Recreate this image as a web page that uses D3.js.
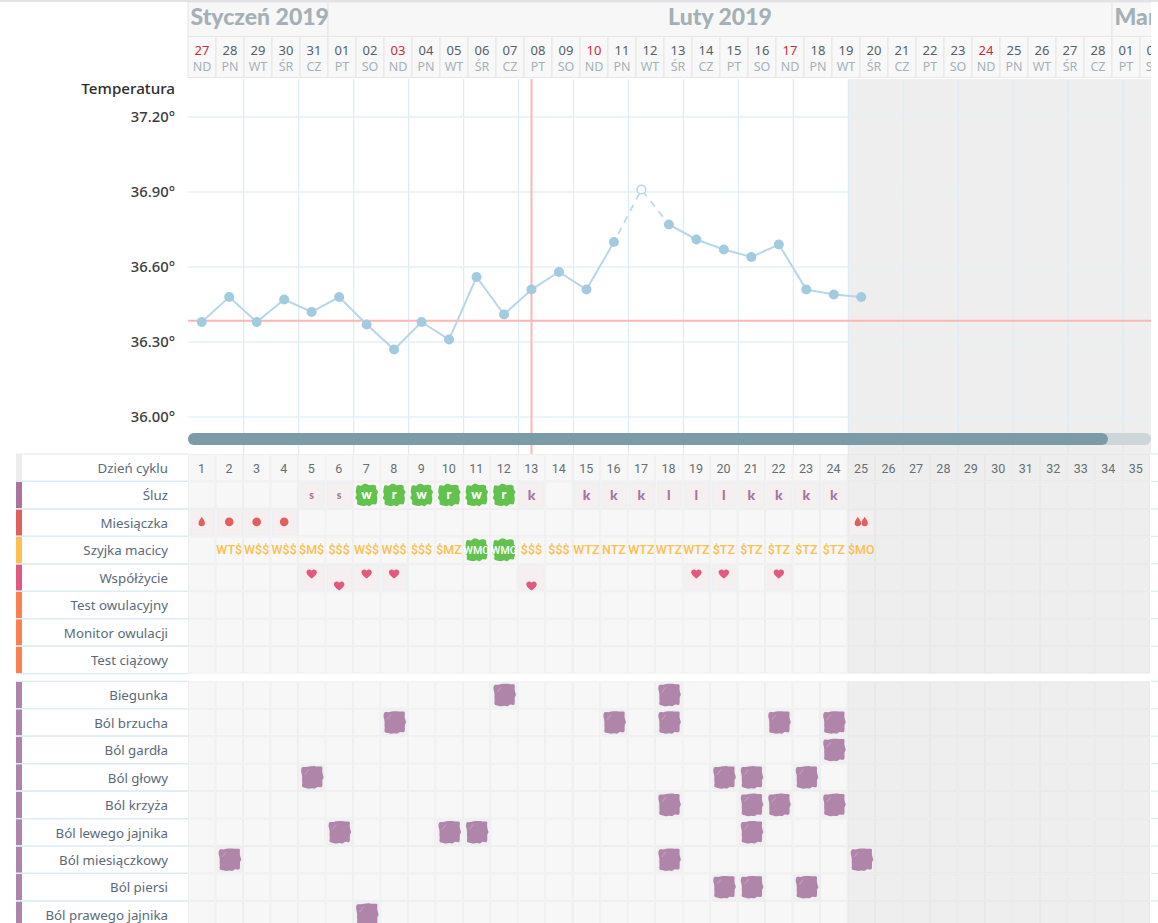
<!DOCTYPE html>
<html lang="pl"><head><meta charset="utf-8">
<script src="https://cdnjs.cloudflare.com/ajax/libs/d3/7.8.5/d3.min.js"></script>
<style>html,body{margin:0;padding:0;background:#fff;overflow:hidden}svg{display:block}</style>
</head><body><svg id="c" width="1158" height="923"></svg>
<script>
const headerMonths=[["Styczeń 2019",0,5],["Luty 2019",5,33],["Marzec 2019",33,35]];
const headerDates=["27","28","29","30","31","01","02","03","04","05","06","07","08","09","10","11","12","13","14","15","16","17","18","19","20","21","22","23","24","25","26","27","28","01","02"];
const headerDays=["ND","PN","WT","ŚR","CZ","PT","SO","ND","PN","WT","ŚR","CZ","PT","SO","ND","PN","WT","ŚR","CZ","PT","SO","ND","PN","WT","ŚR","CZ","PT","SO","ND","PN","WT","ŚR","CZ","PT","SO"];
const yTicks=[37.2,36.9,36.6,36.3,36.0];
const temps=[36.38,36.48,36.38,36.47,36.42,36.48,36.37,36.27,36.38,36.31,36.56,36.41,36.51,36.58,36.51,36.70,36.91,36.77,36.71,36.67,36.64,36.69,36.51,36.49,36.48];
const excludedDay=17;
const coverline=36.385;
const todayDay=13;
const cycleDays=d3.range(1,36);
const rowsA=[["Śluz","#a9759c"],["Miesiączka","#e25f5f"],["Szyjka macicy","#ffbe4d"],["Współżycie","#e2597f"],["Test owulacyjny","#fb7f50"],["Monitor owulacji","#fb7f50"],["Test ciążowy","#fb7f50"]];
const rowsB=["Biegunka","Ból brzucha","Ból gardła","Ból głowy","Ból krzyża","Ból lewego jajnika","Ból miesiączkowy","Ból piersi","Ból prawego jajnika"];
const mucus={5:"s",6:"s",7:"w",8:"r",9:"w",10:"r",11:"w",12:"r",13:"k",15:"k",16:"k",17:"k",18:"l",19:"l",20:"l",21:"k",22:"k",23:"k",24:"k"};
const mucusFertile=[7,8,9,10,11,12];
const bleeding={1:"drop",2:"dot",3:"dot",4:"dot",25:"drops"};
const cervix={2:"WT$",3:"W$$",4:"W$$",5:"$M$",6:"$$$",7:"W$$",8:"W$$",9:"$$$",10:"$MZ",11:"WMO",12:"WMO",13:"$$$",14:"$$$",15:"WTZ",16:"NTZ",17:"WTZ",18:"WTZ",19:"WTZ",20:"$TZ",21:"$TZ",22:"$TZ",23:"$TZ",24:"$TZ",25:"$MO"};
const cervixFertile=[11,12];
const sexTop=[5,7,8,19,20,22];
const sexBottom=[6,13];
const symptoms=[[12,18],[8,16,18,22,24],[24],[5,20,21,23],[18,21,22,24],[6,10,11,21],[2,18,25],[20,21,23],[7]];
const purpleRadii=[.96,1.0,1.08,1.26,1.04,.98,1.02,.95,1.06,1.22,1.0,1.03,.97,1.05,1.1,1.2,.98,.9,.86,.92,1.1,1.22,1.02,.97];
const greenRadii=[1.04,.95,1.12,1.24,1.06,1.12,.96,1.05,1.14,1.24,1.02,1.1,.96,1.08,1.16,1.25,1.03,1.1,.95,1.06,1.14,1.26,1.0,1.08];

const svg=d3.select("#c");
const font="'Source Sans Pro','Noto Sans',sans-serif";
const hx=d3.scaleLinear().domain([0,35]).range([188,1168]);
const cx=d3.scaleLinear().domain([0,35]).range([188,1149.8]);
const y=d3.scaleLinear().domain([36,37.2]).range([417,117]);
const rowH=27.45;
const rowY=i=>454+rowH*i;
const row2Y=i=>681.3+rowH*i;
const center=d=>cx(d-.5);
svg.append("defs").append("clipPath").attr("id","clipR").append("rect").attr("width",1151).attr("height",923);
const blobGen=radii=>d3.lineRadial().curve(d3.curveCatmullRomClosed).angle((d,i)=>i/radii.length*2*Math.PI).radius(d=>d);
function blob(g,radii,xc,yc,r,color){
  g.append("path").attr("d",blobGen(radii)(radii.map(v=>v*r))).attr("fill",color)
   .attr("transform",`translate(${xc},${yc})`);
}
const heart="M0,4.8C-2,3-5.2,1-5.2,-1.6C-5.2,-3.4-3.8,-4.4-2.5,-4.4C-1.4,-4.4-.5,-3.8,0,-3C.5,-3.8,1.4,-4.4,2.5,-4.4C3.8,-4.4,5.2,-3.4,5.2,-1.6C5.2,1,2,3,0,4.8Z";
const dropPath="M0,-5.2C1,-3.2,3.2,-1.2,3.2,1.2A3.2,3.2,0,0,1,-3.2,1.2C-3.2,-1.2,-1,-3.2,0,-5.2Z";

svg.append("rect").attr("width",1158).attr("height",2).attr("fill","#e1e1e6");
const root=svg.append("g").attr("clip-path","url(#clipR)");
const head=root.append("g");
head.selectAll("rect.m").data(headerMonths).join("rect").attr("class","m")
  .attr("x",d=>hx(d[1])).attr("y",2).attr("width",d=>hx(d[2])-hx(d[1])).attr("height",34.5)
  .attr("fill","#f7f7f7").attr("stroke","#e6e6e6");
head.selectAll("text.m").data(headerMonths).join("text").attr("class","m")
  .attr("x",(d,i)=>i==1?720:hx(d[1])+2.5).attr("y",24.5).attr("text-anchor",(d,i)=>i==1?"middle":"start")
  .attr("font-family","Lato,sans-serif").attr("font-weight",900).attr("font-size",23).attr("fill","#a3b0b7").text(d=>d[0]);
head.selectAll("rect.d").data(headerDates).join("rect").attr("class","d")
  .attr("x",(d,i)=>hx(i)).attr("y",36.5).attr("width",28).attr("height",41)
  .attr("fill","#f8f8f8").attr("stroke","#e6e6e6");
head.selectAll("text.d").data(headerDates).join("text").attr("class","d")
  .attr("x",(d,i)=>hx(i+.5)).attr("y",55).attr("text-anchor","middle").attr("font-family",font).attr("font-size",13)
  .attr("fill",(d,i)=>headerDays[i]=="ND"?"#cf2a3a":"#54606b").text(d=>d);
head.selectAll("text.w").data(headerDays).join("text").attr("class","w")
  .attr("x",(d,i)=>hx(i+.5)).attr("y",71).attr("text-anchor","middle").attr("font-family",font).attr("font-size",12.5)
  .attr("fill","#a5b2ba").text(d=>d);

const plot=root.append("g");
plot.append("rect").attr("x",cx(24)+1).attr("y",79).attr("width",1150-cx(24)).attr("height",375).attr("fill","#eeeeee");
const gridX=d3.range(2,35,2);
plot.selectAll("line.gx").data(gridX).join("line").attr("class","gx")
  .attr("x1",d=>cx(d)+.8).attr("x2",d=>cx(d)+.8).attr("y1",79).attr("y2",454).attr("stroke","#dcecf4").attr("stroke-width",1.2);
plot.selectAll("line.gy").data(yTicks).join("line").attr("class","gy")
  .attr("x1",188).attr("x2",1151).attr("y1",d=>y(d)).attr("y2",d=>y(d)).attr("stroke","#e4f0f6").attr("stroke-width",1.5);
plot.append("line").attr("x1",188).attr("x2",1151).attr("y1",y(coverline)).attr("y2",y(coverline)).attr("stroke","#ffb5b5").attr("stroke-width",2);
plot.append("line").attr("x1",center(todayDay)).attr("x2",center(todayDay)).attr("y1",79).attr("y2",454).attr("stroke","#ffb5b5").attr("stroke-width",2);
const pts=temps.map((t,i)=>({d:i+1,t}));
const line=d3.line().x(d=>center(d.d)).y(d=>y(d.t));
plot.append("path").attr("d",line(pts.slice(0,excludedDay-1))).attr("fill","none").attr("stroke","#b7d7e7").attr("stroke-width",2);
plot.append("path").attr("d",line(pts.slice(excludedDay))).attr("fill","none").attr("stroke","#b7d7e7").attr("stroke-width",2);
plot.append("path").attr("d",line(pts.slice(excludedDay-2,excludedDay+1))).attr("fill","none").attr("stroke","#b7d7e7").attr("stroke-width",1.6).attr("stroke-dasharray","7 6").attr("stroke-dashoffset",-9);
plot.selectAll("circle.p").data(pts).join("circle").attr("class","p")
  .attr("cx",d=>center(d.d)).attr("cy",d=>y(d.t)).attr("r",d=>d.d==excludedDay?4.3:5)
  .attr("fill",d=>d.d==excludedDay?"#fff":"#a3cbe0").attr("stroke",d=>d.d==excludedDay?"#b7d7e7":"none").attr("stroke-width",1.6);
const labelG=svg.append("g");
labelG.append("text").attr("x",175).attr("y",94).attr("text-anchor","end").attr("font-family",font).attr("font-size",15.2).attr("font-weight",500).attr("fill","#2c2c2c").text("Temperatura");
labelG.selectAll("text.t").data(yTicks).join("text").attr("class","t").attr("x",175).attr("y",d=>y(d)+5)
  .attr("text-anchor","end").attr("font-family",font).attr("font-size",14.8).attr("font-weight",500).attr("fill","#3c3c3c").text(d=>d.toFixed(2)+"°");
plot.append("rect").attr("x",188).attr("y",433).attr("width",963).attr("height",12).attr("rx",6).attr("fill","#cdd6d9");
plot.append("rect").attr("x",188).attr("y",433).attr("width",920).attr("height",12).attr("rx",6).attr("fill","#7b9ca6");

function rowBase(g,top,label,color){
  g.append("rect").attr("x",16).attr("y",top+.6).attr("width",6).attr("height",rowH-1.2).attr("fill",color);
  g.append("line").attr("x1",16).attr("x2",188).attr("y1",top).attr("y2",top).attr("stroke","#dcecf4").attr("stroke-width",1.2);
  g.append("line").attr("x1",16).attr("x2",188).attr("y1",top+rowH).attr("y2",top+rowH).attr("stroke","#dcecf4").attr("stroke-width",1.2);
  g.append("line").attr("x1",1151).attr("x2",1158).attr("y1",top).attr("y2",top).attr("stroke","#dcecf4").attr("stroke-width",1.2);
  g.append("text").attr("x",168).attr("y",top+19).attr("text-anchor","end").attr("font-family",font).attr("font-size",13.3).attr("fill","#5b6a7a").text(label);
  g.selectAll(null).data(cycleDays).join("rect")
    .attr("x",d=>cx(d-1)+.5).attr("y",top+.5).attr("width",cx(1)-cx(0)-1).attr("height",rowH-1)
    .attr("fill",d=>d>=25?"#eeeeee":"#f7f7f7").attr("stroke",d=>d>=25?"#e8e8e8":"#eeeeee").attr("stroke-width",1);
}
const rows=svg.append("g");
rowBase(rows,rowY(0),"Dzień cyklu","#ececec");
rowsA.forEach((r,i)=>rowBase(rows,rowY(i+1),r[0],r[1]));
rowsB.forEach((r,i)=>rowBase(rows,row2Y(i),r,"#ae84ac"));
rows.selectAll("text.cd").data(cycleDays).join("text").attr("class","cd")
  .attr("x",d=>center(d)-.3).attr("y",rowY(0)+19).attr("text-anchor","middle").attr("font-family","Roboto,sans-serif").attr("font-size",12.5).attr("fill","#666e73").text(d=>d);

const marks=svg.append("g");
const pinkCell=(d,top)=>marks.append("rect").attr("x",cx(d-1)+2).attr("y",top+1.5).attr("width",cx(1)-cx(0)-3.5).attr("height",rowH-3).attr("fill","#f5eff0").attr("stroke","#e3eff6").attr("stroke-width",.6);
Object.entries(mucus).forEach(([k,v])=>{
  const d=+k,xc=center(d),top=rowY(1),fert=mucusFertile.includes(d);
  if(fert) blob(marks,greenRadii,xc,top+13.5,10.6,"#62c24d");
  else pinkCell(d,top);
  marks.append("text").attr("x",xc).attr("y",top+(d<7?17.5:fert?17.5:19)).attr("text-anchor","middle").attr("font-family","Lato,sans-serif").attr("font-weight",900)
    .attr("font-size",d<7?10.5:fert?13:14).attr("fill",fert?"#fff":"#a574a0").text(v);
});
Object.entries(bleeding).forEach(([k,v])=>{
  const d=+k,xc=center(d),top=rowY(2),yc=top+13;
  pinkCell(d,top);
  if(v=="dot") marks.append("circle").attr("cx",xc).attr("cy",yc).attr("r",4.3).attr("fill","#e25f5f");
  else if(v=="drop") marks.append("path").attr("d",dropPath).attr("transform",`translate(${xc},${yc})`).attr("fill","#e25f5f");
  else [-3.4,3.4].forEach(o=>marks.append("path").attr("d",dropPath).attr("transform",`translate(${xc+o},${yc})`).attr("fill","#e25f5f"));
});
Object.entries(cervix).forEach(([k,v])=>{
  const d=+k,xc=center(d),top=rowY(3),fert=cervixFertile.includes(d);
  if(fert) blob(marks,greenRadii,xc,top+13.5,10.8,"#62c24d");
  marks.append("text").attr("x",xc).attr("y",top+18).attr("text-anchor","middle").attr("font-family","Roboto,sans-serif").attr("font-size",fert?10.6:12.5).attr("font-weight",500)
    .attr("fill",fert?"#fff":"#ffbe4d").text(v);
});
sexTop.concat(sexBottom).forEach(d=>{
  const top=rowY(4),up=sexTop.includes(d);
  pinkCell(d,top);
  marks.append("path").attr("d",heart).attr("transform",`translate(${center(d)},${top+(up?10:22)})`).attr("fill","#e2597f");
});
symptoms.forEach((days,i)=>days.forEach(d=>{
  const top=row2Y(i);
  pinkCell(d,top);
  blob(marks,purpleRadii,center(d)+.3,top+13.5,11.4,"#b085aa");
  marks.append("path").attr("d",d3.line()([[center(d)-7,top+11],[center(d)-3,top+6]])).attr("stroke","#cbaec8").attr("stroke-width",.8).attr("fill","none");
}));
</script></body></html>
